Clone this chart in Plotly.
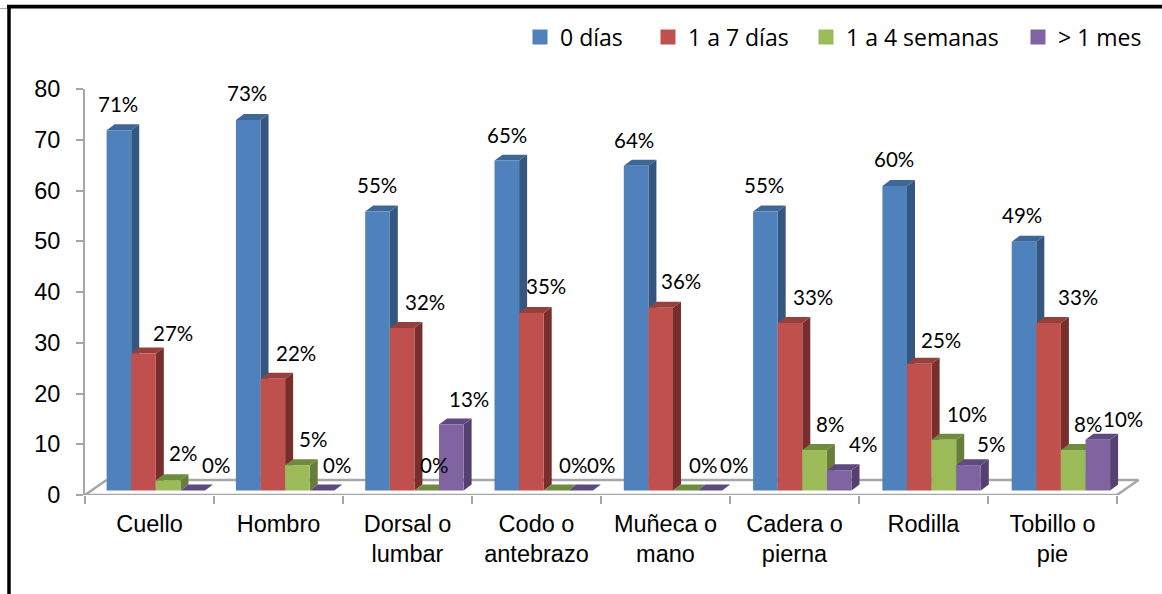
import plotly.graph_objects as go

categories = ["Cuello", "Hombro", "Dorsal o<br>lumbar", "Codo o<br>antebrazo",
              "Muñeca o<br>mano", "Cadera o<br>pierna", "Rodilla", "Tobillo o<br>pie"]
series_names = ["0 días", "1 a 7 días", "1 a 4 semanas", "> 1 mes"]
dias_0 = [71, 73, 55, 65, 64, 55, 60, 49]
dias_1_7 = [27, 22, 32, 35, 36, 33, 25, 33]
semanas_1_4 = [2, 5, 0, 0, 0, 8, 10, 8]
mes_1 = [0, 0, 13, 0, 0, 4, 5, 10]
series_values = [dias_0, dias_1_7, semanas_1_4, mes_1]
y_ticks = [0, 10, 20, 30, 40, 50, 60, 70, 80]

front = ["#4F81BD", "#C0504D", "#9BBB59", "#8064A2"]
side = ["#34567F", "#772E2C", "#677D3B", "#54416F"]
top = ["#3E6797", "#96403D", "#6F8C3E", "#5F4A80"]
GREY = "#A6A6A6"

# plot-area geometry
W, H = 1162, 594
L, R, T, B = 85, 22, 89, 99
PX_X = 129.0
PX_Y = (H - T - B) / 80
X_MAX = (W - L - R) / PX_X
BAR_W = 24.6 / PX_X
GROUP_SHIFT = 0.549
GROUP_STEP = 1.0023
BASE = 4.5 / PX_Y
DX = 8 / PX_X
DY = 6 / PX_Y
FLOOR_DX = 21.5 / PX_X
FLOOR_DY = 15 / PX_Y

# label nudges relative to the front top-centre of each bar (px)
nudge_x = [[-1, 29, 15, 23], [-1, 23, 16, 15], [-1, 23, 7, 18], [0, 15, 17, 20],
           [-2, 20, 18, 24], [-1, 23, 15, 24], [-1, 22, 23, 22], [-2, 29, 15, 25]]
nudge_y = [[26, 20, 27, 26], [27, 26, 26, 26], [26, 26, 26, 26], [26, 27, 26, 26],
           [26, 27, 26, 26], [26, 26, 26, 26], [27, 24, 26, 21], [27, 26, 26, 21]]


def center(i, j):
    return i * GROUP_STEP + GROUP_SHIFT + (j - 1.5) * BAR_W


def poly(points):
    return "M" + " L".join(f"{x},{y}" for x, y in points) + " Z"


fig = go.Figure()
shapes = []
lines = [((0, 0), (8, 0)), ((FLOOR_DX, FLOOR_DY), (8 + FLOOR_DX, FLOOR_DY)),
         ((0, 0), (FLOOR_DX, FLOOR_DY)), ((8, 0), (8 + FLOOR_DX, FLOOR_DY))]
for a, b in lines:
    shapes.append(dict(type="line", layer="below", xref="x", yref="y", x0=a[0], y0=a[1], x1=b[0], y1=b[1],
                       line=dict(color=GREY, width=2.5)))

annotations = []
for j, (name, vals) in enumerate(zip(series_names, series_values)):
    xs = [center(i, j) for i in range(len(vals))]
    fig.add_trace(go.Bar(x=xs, y=vals, base=BASE, width=BAR_W, name=name, showlegend=False,
                         marker=dict(color=front[j], line=dict(width=0))))
    for i, v in enumerate(vals):
        x0, x1 = xs[i] - BAR_W / 2, xs[i] + BAR_W / 2
        y0, y1 = BASE, BASE + v
        shapes.append(dict(type="path", layer="below", xref="x", yref="y", line=dict(width=0), fillcolor=side[j],
                           path=poly([(x1, y0), (x1 + DX, y0 + DY), (x1 + DX, y1 + DY), (x1, y1)])))
        shapes.append(dict(type="path", layer="below", xref="x", yref="y", line=dict(width=0), fillcolor=top[j],
                           path=poly([(x0, y1), (x0 + DX, y1 + DY), (x1 + DX, y1 + DY), (x1, y1)])))
        annotations.append(dict(x=xs[i], y=y1, xref="x", yref="y", text=f"{v}%", showarrow=False,
                                xshift=nudge_x[i][j], yshift=nudge_y[i][j],
                                font=dict(family="Lato", size=20.5, color="black")))

# legend proxies
legend_widths = [83, 113, 167, 110]
for j, name in enumerate(series_names):
    fig.add_trace(go.Scatter(x=[None], y=[None], mode="markers", name=name, legendwidth=legend_widths[j],
                             marker=dict(symbol="square", size=15, color=front[j])))


def px(x):
    return (x - L) / (W - L - R)


def py(y):
    return (H - B - y) / (H - T - B)


# outer frame
shapes.append(dict(type="line", xref="paper", yref="paper", x0=px(0), x1=px(W), y0=py(8.6), y1=py(8.6),
                   line=dict(color=GREY, width=1)))
shapes.append(dict(type="line", xref="paper", yref="paper", x0=px(7), x1=px(W), y0=py(6.5), y1=py(6.5),
                   line=dict(color="black", width=3.5)))
shapes.append(dict(type="line", xref="paper", yref="paper", x0=px(9), x1=px(9), y0=py(5), y1=py(H),
                   line=dict(color="black", width=3.5)))

fig.update_layout(
    width=W, height=H, margin=dict(l=L, r=R, t=T, b=B, autoexpand=False),
    paper_bgcolor="white", plot_bgcolor="white", barmode="overlay",
    font=dict(family="Liberation Sans", color="black"),
    shapes=shapes, annotations=annotations,
    legend=dict(orientation="h", x=px(520), xanchor="left", y=py(37), yanchor="middle",
                font=dict(family="Open Sans", size=23, color="black"), bgcolor="rgba(0,0,0,0)"),
    xaxis=dict(range=[0, X_MAX], showgrid=False, zeroline=False, showline=False,
               tickmode="array", tickvals=[i + 0.5 for i in range(8)], ticktext=categories,
               ticks="", tickfont=dict(size=23.5), ticklabelstandoff=12,
               minor=dict(tickmode="array", tickvals=list(range(9)), ticks="outside", ticklen=8,
                          tickwidth=2, tickcolor=GREY, showgrid=False)),
    yaxis=dict(range=[0, 80], tickmode="array", tickvals=y_ticks, showgrid=False, zeroline=False,
               showline=True, linecolor=GREY, linewidth=2, ticks="outside", ticklen=7, tickwidth=2,
               tickcolor=GREY, tickfont=dict(size=23.5), ticklabelstandoff=11),
)

fig.write_html("out.html", config=dict(displayModeBar=False),
               post_script="document.body.style.margin='0';document.body.style.overflow='hidden';")
